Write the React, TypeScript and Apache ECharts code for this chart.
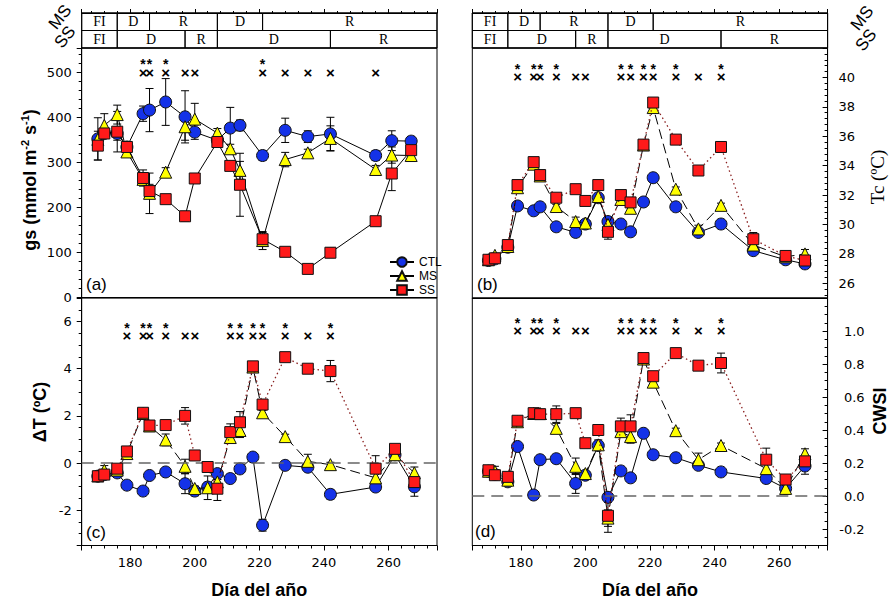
import React, { useEffect, useRef } from "react";
import * as echarts from "echarts";

// ---------- data ----------
const dayMin = 165;
const dayMax = 275;

const msPhaseStarts = [165, 176, 186, 207, 221];
const msPhaseLabels = ["FI", "D", "R", "D", "R"];
const ssPhaseStarts = [165, 176, 197, 207, 242];
const ssPhaseLabels = ["FI", "D", "R", "D", "R"];

// (a) gs
const daysA = [170, 172, 176, 179, 184, 186, 191, 197, 200, 207, 211, 214, 221, 228, 235, 242, 256, 261, 267];
const gsCTL = [353, 365, 365, 335, 409, 417, 435, 402, 368, 350, 377, 383, 316, 372, 358, 364, 316, 349, 348];
const gsMS = [352, 383, 407, 324, 263, 232, 279, 380, 397, 366, 331, 283, 127, 307, 322, 354, 285, 317, 316];
const gsSS = [338, 365, 369, 335, 266, 237, 219, 181, 265, 346, 293, 251, 130, 102, 64, 100, 170, 276, 328];
const gsCTLErr = [47, 10, 15, 12, 17, 48, 52, 58, 16, 10, 46, 12, 11, 27, 13, 37, 11, 22, 10];
const gsMSErr = [10, 26, 21, 12, 10, 45, 10, 30, 35, 10, 10, 20, 20, 16, 8, 28, 9, 18, 10];
const gsSSErr = [32, 10, 45, 12, 18, 15, 8, 11, 8, 8, 10, 70, 15, 6, 6, 11, 6, 38, 8];

// (b) Tc
const daysB = [170, 172, 176, 179, 184, 186, 191, 197, 200, 204, 207, 211, 214, 218, 221, 228, 235, 242, 252, 262, 268];
const tcCTL = [27.55, 27.66, 28.45, 31.26, 30.93, 31.2, 29.84, 29.46, 30.03, 31.82, 30.2, 30.03, 29.5, 31.53, 33.18, 31.2, 29.46, 30.03, 28.22, 27.6, 27.32];
const tcMS = [27.6, 27.9, 28.5, 32.5, 34.1, 33.3, 31.22, 30.2, 30.1, 31.9, 30.0, 31.7, 31.1, 35.4, 37.95, 32.4, 29.7, 31.3, 28.6, 27.8, 28.0];
const tcSS = [27.6, 27.7, 28.6, 32.68, 34.24, 33.36, 31.82, 32.4, 31.6, 32.68, 29.5, 32.0, 31.5, 35.43, 38.29, 35.77, 33.67, 35.27, 29.0, 27.86, 27.55];
const tcCTLErr = [0.1, 0.1, 0.15, 0.15, 0.15, 0.15, 0.15, 0.3, 0.15, 0.15, 0.15, 0.15, 0.15, 0.15, 0.15, 0.15, 0.15, 0.15, 0.15, 0.15, 0.3];
const tcMSErr = [0.1, 0.15, 0.15, 0.15, 0.15, 0.15, 0.15, 0.3, 0.15, 0.15, 0.15, 0.15, 0.3, 0.15, 0.15, 0.15, 0.25, 0.15, 0.15, 0.15, 0.3];
const tcSSErr = [0.1, 0.1, 0.15, 0.15, 0.15, 0.15, 0.15, 0.2, 0.15, 0.15, 0.5, 0.25, 0.3, 0.15, 0.15, 0.15, 0.15, 0.35, 0.45, 0.15, 0.3];

// (c) Delta T
const daysC = [170, 172, 176, 179, 184, 186, 191, 197, 200, 204, 207, 211, 214, 218, 221, 228, 235, 242, 256, 262, 268];
const dtCTL = [-0.56, -0.49, -0.42, -0.94, -1.19, -0.53, -0.38, -0.88, -1.19, -1.02, -0.45, -0.66, -0.25, 0.25, -2.64, -0.1, -0.18, -1.33, -1.02, 0.35, -1.01];
const dtMS = [-0.55, -0.31, -0.3, 0.4, 2.1, 1.57, 0.98, -0.14, -1.08, -1.05, -0.8, 1.08, 1.38, 4.07, 2.13, 1.12, 0.07, -0.07, -0.63, 0.35, -0.42];
const dtSS = [-0.56, -0.49, -0.24, 0.49, 2.13, 1.59, 1.61, 2.0, 0.32, -0.17, -1.09, 1.31, 1.73, 4.1, 2.48, 4.49, 4.0, 3.9, -0.24, 0.6, -0.81];
const dtCTLErr = [0.1, 0.1, 0.1, 0.1, 0.1, 0.1, 0.1, 0.42, 0.2, 0.2, 0.1, 0.1, 0.1, 0.1, 0.25, 0.1, 0.1, 0.2, 0.1, 0.1, 0.4];
const dtMSErr = [0.1, 0.2, 0.1, 0.1, 0.1, 0.1, 0.25, 0.3, 0.1, 0.5, 0.1, 0.1, 0.3, 0.1, 0.1, 0.1, 0.3, 0.1, 0.25, 0.1, 0.25];
const dtSSErr = [0.1, 0.1, 0.1, 0.1, 0.1, 0.1, 0.1, 0.35, 0.1, 0.1, 0.5, 0.35, 0.45, 0.15, 0.1, 0.15, 0.1, 0.45, 0.55, 0.1, 0.1];

// (d) CWSI
const daysD = [170, 172, 176, 179, 184, 186, 191, 197, 200, 204, 207, 211, 214, 218, 221, 228, 235, 242, 256, 262, 268];
const cwCTL = [0.15, 0.13, 0.086, 0.3, 0.006, 0.22, 0.226, 0.076, 0.126, 0.306, -0.008, 0.152, 0.11, 0.38, 0.25, 0.232, 0.186, 0.146, 0.106, 0.046, 0.182];
const cwMS = [0.15, 0.15, 0.096, 0.45, 0.5, 0.5, 0.41, 0.18, 0.136, 0.31, -0.134, 0.39, 0.36, 0.83, 0.69, 0.396, 0.22, 0.306, 0.166, 0.046, 0.256];
const cwSS = [0.156, 0.126, 0.116, 0.456, 0.502, 0.496, 0.496, 0.502, 0.32, 0.4, -0.12, 0.422, 0.422, 0.836, 0.726, 0.866, 0.79, 0.806, 0.22, 0.1, 0.21];
const cwCTLErr = [0.015, 0.015, 0.015, 0.015, 0.015, 0.015, 0.015, 0.06, 0.015, 0.015, 0.03, 0.015, 0.015, 0.015, 0.015, 0.015, 0.015, 0.015, 0.015, 0.015, 0.05];
const cwMSErr = [0.015, 0.03, 0.015, 0.015, 0.015, 0.015, 0.03, 0.05, 0.015, 0.03, 0.05, 0.015, 0.04, 0.015, 0.015, 0.015, 0.04, 0.015, 0.03, 0.015, 0.03];
const cwSSErr = [0.015, 0.015, 0.015, 0.015, 0.015, 0.015, 0.05, 0.015, 0.015, 0.015, 0.1, 0.05, 0.07, 0.015, 0.015, 0.02, 0.015, 0.06, 0.07, 0.015, 0.015];

// significance marks
const sigStarsA = [184, 186, 191, 221];
const sigCrossA = [184, 186, 191, 197, 200, 221, 228, 235, 242, 256];
const sigStars = [179, 184, 186, 191, 211, 214, 218, 221, 228, 242];
const sigCross = [179, 184, 186, 191, 197, 200, 211, 214, 218, 221, 228, 235, 242];

// axis ranges
const yRangeA = [0, 555];
const yRangeB = [25, 42];
const yRangeC = [-3.5, 7];
const yRangeD = [-0.3, 1.2];

// ---------- styling ----------
const FONT = '"Liberation Sans", Arial, Helvetica, sans-serif';
const TICK_FONT = '"DejaVu Sans", Verdana, sans-serif';
const SERIF = '"Liberation Serif", "Times New Roman", serif';
const GL = 81.7;
const GR = 472.3;
const GW = 355.3;

const symbolOf: any = {
  CTL: ["circle", 12, "#1432e8"],
  MS: ["triangle", 12, "#ffff00"],
  SS: ["rect", 11, "#ff1a1a"],
};
const solid = { color: "#000", width: 1, type: "solid" };
const msDash = { color: "#000", width: 1, type: [10, 5] };
const ssDot = { color: "#8b2020", width: 1.3, type: [1.5, 3] };

function pts(days: number[], vals: number[]) {
  return days.map((d, i) => [d, vals[i]]);
}

function lineSeries(name: string, idx: number, days: number[], vals: number[], lineStyle: any, z: number, extra: any = {}) {
  const [symbol, size, color] = symbolOf[name];
  return {
    type: "line",
    name,
    xAxisIndex: idx,
    yAxisIndex: idx,
    data: pts(days, vals),
    symbol,
    symbolSize: size,
    showAllSymbol: true,
    itemStyle: { color, borderColor: "#111", borderWidth: 1 },
    lineStyle,
    z,
    emphasis: { disabled: true },
    ...extra,
  };
}

function errorRender(params: any, api: any) {
  const x = api.value(0);
  const y = api.value(1);
  const e = api.value(2);
  const top = api.coord([x, y + e]);
  const bot = api.coord([x, y - e]);
  const w = 4;
  const st = { stroke: "#000", lineWidth: 1 };
  return {
    type: "group",
    children: [
      { type: "line", shape: { x1: top[0], y1: top[1], x2: bot[0], y2: bot[1] }, style: st },
      { type: "line", shape: { x1: top[0] - w, y1: top[1], x2: top[0] + w, y2: top[1] }, style: st },
      { type: "line", shape: { x1: bot[0] - w, y1: bot[1], x2: bot[0] + w, y2: bot[1] }, style: st },
    ],
  };
}

function errSeries(idx: number, days: number[], vals: number[], errs: number[]) {
  return {
    type: "custom",
    xAxisIndex: idx,
    yAxisIndex: idx,
    data: days.map((d, i) => [d, vals[i], errs[i]]),
    encode: { x: 0, y: 1 },
    renderItem: errorRender,
    z: 1,
    silent: true,
  };
}

function markSeries(idx: number, days: number[], level: number, ch: string, size: number) {
  return {
    type: "custom",
    xAxisIndex: idx,
    yAxisIndex: idx,
    data: days.map((d) => [d, level]),
    encode: { x: 0, y: 1 },
    silent: true,
    z: 6,
    renderItem: (p: any, api: any) => {
      const c = api.coord([api.value(0), api.value(1)]);
      return {
        type: "text",
        x: c[0],
        y: c[1],
        style: {
          text: ch,
          fontSize: size,
          fontWeight: "bold",
          fontFamily: FONT,
          fill: "#000",
          align: "center",
          verticalAlign: "middle",
          textAlign: "center",
          textVerticalAlign: "middle",
        },
      };
    },
  };
}

function headerSeries(idx: number) {
  const cells: number[][] = [];
  const labels: string[] = [];
  const rows: any[] = [
    [msPhaseStarts, msPhaseLabels, 1],
    [ssPhaseStarts, ssPhaseLabels, 0],
  ];
  rows.forEach(([starts, labs, row]) => {
    starts.forEach((s: number, i: number) => {
      cells.push([s, i + 1 < starts.length ? starts[i + 1] : dayMax, row]);
      labels.push(labs[i]);
    });
  });
  return {
    type: "custom",
    xAxisIndex: idx,
    yAxisIndex: idx,
    data: cells,
    encode: { x: [0, 1], y: 2 },
    silent: true,
    renderItem: (params: any, api: any) => {
      const s = api.value(0);
      const e = api.value(1);
      const r = api.value(2);
      const p1 = api.coord([s, r + 1]);
      const p2 = api.coord([e, r]);
      return {
        type: "group",
        children: [
          {
            type: "rect",
            shape: { x: p1[0], y: p1[1], width: p2[0] - p1[0], height: p2[1] - p1[1] },
            style: { fill: "none", stroke: "#000", lineWidth: 1 },
          },
          {
            type: "text",
            x: (p1[0] + p2[0]) / 2,
            y: (p1[1] + p2[1]) / 2,
            style: {
              text: labels[params.dataIndex],
              fontSize: 14,
              fontFamily: SERIF,
              fill: "#000",
              align: "center",
              verticalAlign: "middle",
              textAlign: "center",
              textVerticalAlign: "middle",
            },
          },
        ],
      };
    },
  };
}

const axisLine = { show: true, onZero: false, lineStyle: { color: "#000", width: 1 } };
const tickStyle = { color: "#000", width: 1 };

function hdrX(gi: number) {
  return {
    type: "value",
    gridIndex: gi,
    min: dayMin,
    max: dayMax,
    position: "top",
    axisLine,
    axisTick: { show: true, inside: false, length: 4, lineStyle: tickStyle },
    minorTick: { show: true, splitNumber: 5, length: 2, lineStyle: tickStyle },
    axisLabel: { show: false },
    splitLine: { show: false },
  };
}
function plainX(gi: number) {
  return {
    type: "value",
    gridIndex: gi,
    min: dayMin,
    max: dayMax,
    axisLine,
    axisTick: { show: false },
    axisLabel: { show: false },
    splitLine: { show: false },
  };
}
function bottomX(gi: number) {
  return {
    type: "value",
    gridIndex: gi,
    min: dayMin,
    max: dayMax,
    position: "bottom",
    axisLine,
    axisTick: { show: true, length: 5, lineStyle: tickStyle },
    minorTick: { show: true, splitNumber: 5, length: 3, lineStyle: tickStyle },
    axisLabel: { fontSize: 13, fontFamily: TICK_FONT, color: "#000", margin: 10, showMinLabel: false, showMaxLabel: false },
    splitLine: { show: false },
    name: "Día del año",
    nameLocation: "middle",
    nameGap: 35,
    nameTextStyle: { fontSize: 18, fontWeight: "bold", fontFamily: FONT, color: "#000" },
  };
}
function hdrY(gi: number) {
  return { type: "value", gridIndex: gi, min: 0, max: 2, show: false };
}
function valY(gi: number, range: number[], splitNumber: number, minor: number, position: string, extraLabel: any = {}) {
  const right = position === "right";
  return {
    type: "value",
    gridIndex: gi,
    min: range[0],
    max: range[1],
    splitNumber,
    position,
    axisLine,
    axisTick: { show: true, inside: right, length: 5, lineStyle: tickStyle },
    minorTick: { show: true, splitNumber: minor, length: 3, lineStyle: tickStyle },
    axisLabel: {
      fontSize: 13,
      fontFamily: TICK_FONT,
      color: "#000",
      margin: right ? 11 : 10,
      showMinLabel: false,
      showMaxLabel: false,
      ...extraLabel,
    },
    splitLine: { show: false },
  };
}

const zeroLine = {
  silent: true,
  symbol: ["none", "none"],
  label: { show: false },
  lineStyle: { color: "#666", type: [12, 7], width: 1.5 },
  data: [{ yAxis: 0 }],
};

function panelSeries(idx: number, days: number[], c: number[], m: number[], s: number[], ec: number[], em: number[], es: number[], styled: boolean, zero: boolean) {
  return [
    errSeries(idx, days, c, ec),
    errSeries(idx, days, m, em),
    errSeries(idx, days, s, es),
    lineSeries("CTL", idx, days, c, solid, 3, zero ? { markLine: zeroLine } : {}),
    lineSeries("MS", idx, days, m, styled ? msDash : solid, 4),
    lineSeries("SS", idx, days, s, styled ? ssDot : solid, 5),
  ];
}

function buildOption() {
  const gridBase = { show: true, borderColor: "#000", borderWidth: 1, backgroundColor: "transparent", containLabel: false, outerBoundsMode: "none" };
  const series: any[] = [
    ...panelSeries(2, daysA, gsCTL, gsMS, gsSS, gsCTLErr, gsMSErr, gsSSErr, false, false),
    ...panelSeries(3, daysB, tcCTL, tcMS, tcSS, tcCTLErr, tcMSErr, tcSSErr, true, false),
    ...panelSeries(4, daysC, dtCTL, dtMS, dtSS, dtCTLErr, dtMSErr, dtSSErr, true, true),
    ...panelSeries(5, daysD, cwCTL, cwMS, cwSS, cwCTLErr, cwMSErr, cwSSErr, true, true),
    headerSeries(0),
    headerSeries(1),
    markSeries(2, sigCrossA, 501, "×", 15),
    markSeries(2, sigStarsA, 520, "*", 14),
    markSeries(3, sigCross, 40.06, "×", 15),
    markSeries(3, sigStars, 40.58, "*", 14),
    markSeries(4, sigCross, 5.39, "×", 15),
    markSeries(4, sigStars, 5.71, "*", 14),
    markSeries(5, sigCross, 1.006, "×", 15),
    markSeries(5, sigStars, 1.048, "*", 14),
  ];

  const txt = (text: string, x: number, y: number, font: string, rotation = 0, extra: any = {}) => ({
    type: "text",
    x,
    y,
    rotation,
    style: {
      text,
      font,
      fill: "#000",
      textAlign: "center",
      textVerticalAlign: "middle",
      align: "center",
      verticalAlign: "middle",
      ...extra,
    },
  });

  const rotMS = 0.9;

  return {
    animation: false,
    backgroundColor: "#fff",
    grid: [
      { ...gridBase, left: GL, top: 13, width: GW, height: 35 },
      { ...gridBase, left: GR, top: 13, width: GW, height: 35 },
      { ...gridBase, left: GL, top: 48, width: GW, height: 249.7 },
      { ...gridBase, left: GR, top: 48, width: GW, height: 250 },
      { ...gridBase, left: GL, top: 298, width: GW, height: 247.5 },
      { ...gridBase, left: GR, top: 298, width: GW, height: 247.5 },
    ],
    xAxis: [hdrX(0), hdrX(1), plainX(2), plainX(3), bottomX(4), bottomX(5)],
    yAxis: [
      hdrY(0),
      hdrY(1),
      valY(2, yRangeA, 5, 5, "left", { showMinLabel: true }),
      valY(3, yRangeB, 8, 5, "right"),
      valY(4, yRangeC, 5, 4, "left"),
      valY(5, yRangeD, 7, 4, "right", {
        formatter: (v: number) => v.toFixed(1),
        align: "right",
        margin: 37,
      }),
    ],
    legend: {
      data: ["CTL", "MS", "SS"],
      orient: "vertical",
      left: 384,
      top: 251,
      itemWidth: 24,
      itemHeight: 12,
      itemGap: 2,
      selectedMode: false,
      textStyle: { fontSize: 12, fontFamily: FONT, color: "#000" },
    },
    series,
    graphic: [
      {
        type: "text",
        x: 30,
        y: 180,
        rotation: Math.PI / 2,
        style: {
          text: "{t|gs (mmol m}{s|-2}{t| s}{s|-1}{t|)}",
          textAlign: "center",
          textVerticalAlign: "middle",
          align: "center",
          verticalAlign: "middle",
          fill: "#000",
          rich: {
            t: { fontSize: 18, fontWeight: "bold", fontFamily: FONT, fill: "#000", color: "#000", lineHeight: 22 },
            s: { fontSize: 11, fontWeight: "bold", fontFamily: FONT, fill: "#000", color: "#000", lineHeight: 14, verticalAlign: "top" },
          },
        },
      },
      txt("ΔT (ºC)", 40, 412, `bold 18px ${FONT}`, Math.PI / 2),
      txt("Tc (ºC)", 877, 177, `19px ${SERIF}`, Math.PI / 2),
      txt("CWSI", 880, 411, `bold 18px ${FONT}`, Math.PI / 2),
      txt("(a)", 86, 284, `17px ${FONT}`, 0, { textAlign: "left", align: "left" }),
      txt("(b)", 477, 284, `17px ${FONT}`, 0, { textAlign: "left", align: "left" }),
      txt("(c)", 86, 532, `17px ${FONT}`, 0, { textAlign: "left", align: "left" }),
      txt("(d)", 475, 531, `17px ${FONT}`, 0, { textAlign: "left", align: "left" }),
      txt("MS", 60, 17, `17px ${FONT}`, rotMS),
      txt("SS", 65, 37, `17px ${FONT}`, rotMS),
      txt("MS", 862, 18, `17px ${FONT}`, rotMS),
      txt("SS", 866, 40, `17px ${FONT}`, rotMS),
    ],
  };
}

export default function App() {
  const ref = useRef<HTMLDivElement>(null);
  useEffect(() => {
    if (!ref.current) return;
    const chart = echarts.init(ref.current, null, { renderer: "svg" });
    chart.setOption(buildOption() as any);
    return () => chart.dispose();
  }, []);
  return (
    <div
      ref={ref}
      style={{ position: "fixed", left: 0, top: 0, width: 896, height: 608, background: "#fff" }}
    />
  );
}
